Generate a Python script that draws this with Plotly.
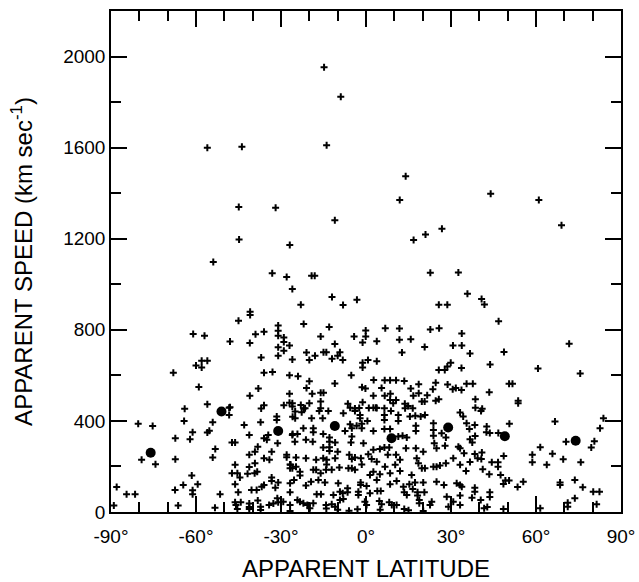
import plotly.graph_objects as go

# Individual events: (apparent latitude [deg], apparent speed [km/s])
pts_upper = [
    (-14.8,1953),(-8.9,1824),(-56,1599),(-43.8,1604),(-13.9,1610),
    (-44.9,1339),(-31.9,1336),(-11,1281),(-44.8,1197),(-26.9,1172),(-53.9,1098),(-33.1,1048),
    (-28,1032),(-19.2,1037),(-18.1,1037),(-26,979),(-12,944),(-23,910),(-8.1,909),(-3.2,932),
    (14,1474),(11.9,1370),(44,1397),(61,1370),(69,1259),(26.8,1244),(21,1219),(16.8,1194),
    (22.7,1051),(32.6,1052),(35.8,958),(40.8,935),(25.7,910),(28.7,910),(41.8,911),
]
pts_mid_left = [
    (-40.9,879),(-40.9,865),(-45,840),(-61,782),(-57,774),(-48,749),(-41,742),(-39,781),(-36,791),
    (-31,819),(-31,796),(-31,774),(-29,766),(-29,747),(-27,731),(-31,724),(-29,708),(-31,686),
    (-37,678),(-26,670),(-58,664),(-56,664),(-60,643),(-58,634),(-68,611),(-36,611),(-33,615),
    (-27,601),(-59,549),(-38,542),(-41,510),(-27,519),(-56,473),(-36,469),(-29,469),(-26,478),
    (-26,463),(-64,453),(-48,460),(-37,454),
]
pts_mid_center = [
    (-22,826),(-13,812),(-16,771),(-11,738),(-4.2,771),(-0.1,797),(-0.1,771),(-1.2,744),(3.8,750),
    (6.8,807),(11.8,806),(11.8,756),(15.8,759),(22.7,801),(25.8,807),(33.8,784),(30.7,731),
    (33.8,731),(20.7,725),(12.7,700),(-21,700),(-20,667),(-18,686),(-15,702),(-14,702),(-10,686),
    (-9.2,702),(-12,673),(-8.2,668),(-1.2,655),(-1.2,634),(0.7,668),(3.8,662),(-24,596),(-20,574),
    (-5.2,601),(-11,564),(-21,545),(-19,519),(-16,524),(-15,524),(-1.4,548),(-0.2,542),(2.7,580),
    (2.6,511),(6.6,579),(8.5,579),(10.6,579),(13.5,575),(5.5,545),(8.6,519),(6.6,510),(15.8,542),
    (18.6,561),(18.6,522),(16.7,511),(21.6,513),(23.6,539),(24.6,568),(28.8,560),(30.6,539),
    (31.7,545),(33.7,536),(25.7,624),(27.8,624),(28.7,639),(29.9,655),(33.7,632),(25.7,495),
    (24.6,489),(-27,480),(-23,470),(-20,478),(-16,485),(-6.4,475),(-1.2,482),(2.6,458),(8.5,492),
    (9.6,478),(10.6,492),(13.7,475),(14.9,466),(16.5,456),(19.7,485),(20.7,485),(6.5,456),
    (-2.4,457),(1,457),(3.8,457),(-3.9,454),(-16,456),(-22,454),
]
pts_mid_right = [
    (46.8,838),(36.7,696),(48.7,703),(71.7,739),(43.8,648),(60.7,630),(75.6,608),(35.5,563),
    (37.7,563),(50.5,563),(51.7,563),(43.5,526),(38.6,495),(53.7,488),(53.7,478),(38.6,458),(41,453),
]
pts_low_right = [
    (40.6,444),(33.2,437),(34.3,419),(35.5,390),(38.4,382),(36.5,364),(42.6,375),(42.5,350),
    (43.7,347),(46.7,347),(50.6,388),(38.5,334),(36.7,320),(37.5,305),(33.2,280),(34.6,258),
    (38.4,255),(40.9,261),(48.6,246),(39.4,236),(40.7,233),(33.2,207),(36.7,220),(44.4,218),
    (46.6,218),(46.6,199),(35.3,180),(41.2,188),(43.5,166),(47.5,163),(49.2,138),(50.5,138),
    (48.5,123),(53.5,110),(55.5,133),(33.2,119),(38.4,107),(38.4,89),(43.7,87),(43.7,66),
    (33.2,72),(37.4,63),(40.5,53),(41.7,16),(42.8,22),(48.5,13),
    (66.7,397),(83.8,412),(82.6,368),(80.6,311),(79.5,283),(70.6,309),(61.5,284),(58.7,251),
    (58.7,218),(65.8,256),(63.8,207),(69.6,232),(75.8,218),(68.5,130),(68.5,119),(73.7,141),
    (76.5,109),(80.2,89),(82.4,89),(73.7,60),(71.2,41),(71.2,23),(61.5,16),(81.4,34),
]
pts_low_left = [
    (-48.3,458),(-48.3,426),(-80.4,387),(-75.3,378),(-64.2,400),(-54.1,394),(-61.2,350),
    (-62.1,320),(-55.3,357),(-56,349),(-67.3,324),(-43,382),(-37.2,394),(-31.5,419),(-31.5,404),
    (-25.9,418),(-26,338),(-34.5,338),(-36,324),(-35,317),(-41.2,338),(-31.2,302),(-33.3,265),
    (-28,251),(-28,240),(-26.6,207),(-26,192),(-38.2,287),(-39.2,265),(-41.2,251),(-36,236),
    (-34.1,229),(-79.2,229),(-74.3,210),(-67.3,232),(-54.1,239),(-53.2,277),(-47.3,305),
    (-46.2,305),(-46.2,207),(-41.2,198),(-39.2,214),(-38.4,177),(-39.3,170),(-41.8,168),
    (-47.3,170),(-45.4,170),(-44.5,151),(-46.2,122),(-36,119),(-36.8,111),(-33.3,151),
    (-33.3,136),(-32,107),(-31,130),(-26.8,126),(-61.5,160),(-64.5,119),(-59.4,122),(-61.2,95),
    (-61.2,78),(-67.4,97),(-84.5,78),(-81.5,78),(-51.5,78),(-45.1,87),(-40.4,97),(-38.6,97),
    (-46.2,43),(-45.9,31),(-44.2,43),(-41.2,37),(-41.2,22),(-41.2,13),(-38.2,50),(-37.2,23),
    (-37.2,9),(-34.2,31),(-32.7,37),(-31.3,60),(-31,43),(-29.2,45),(-26.8,31),(-26.8,4),
    (-66.3,28),(-53.3,19),(-45.4,13),(-88,110),(-89,28),
]
pts_low_center = [
    (-25,441),(-22.7,438),(-21.5,456),(-25,412),(-19.2,412),(-16.5,444),(-13.3,444),(-15.3,412),
    (-8,434),(-5.6,458),(-3.9,444),(-2.1,426),(-2.1,412),(0.5,400),(3.5,458),(6.5,426),(6.5,404),
    (8.8,444),(11.4,426),(11.4,400),(13.8,456),(15.5,419),(17.4,423),(19.3,419),(20.8,426),
    (23.8,390),(-25.9,342),(-24.2,342),(-22.1,368),(-21.2,317),(-25.1,309),(-18.6,368),
    (-18.6,350),(-18.8,309),(-15.1,342),(-12.9,327),(-12.9,309),(-15.1,283),(-12.9,284),
    (-12.9,268),(-10.9,305),(-10,265),(-7.4,356),(-5.6,385),(-5,368),(-5,331),(-5.3,305),
    (-3.3,379),(-1.5,387),(-1.5,368),(2.6,356),(6.5,365),(8.5,365),(11.4,331),(12.9,335),
    (14.4,327),(17.6,379),(17.6,356),(23.8,360),(23.8,335),(26.7,346),(28.2,327),(24.1,302),
    (27.9,291),(32.6,287),(-0.9,302),(2.6,273),(4.9,277),(6.5,283),(8.2,283),(7.7,251),
    (10.6,251),(14.1,280),(17.6,280),(20.2,265),(24.9,280),(-24.7,239),(-21.2,236),(-26.8,209),
    (-26.8,192),(-24.7,199),(-23.3,177),(-23.3,160),(-17.6,229),(-15.1,236),(-13.9,229),
    (-13.9,209),(-10.9,236),(-5.9,251),(-5,233),(-3.9,239),(-1.8,236),(0.8,254),(2,233),
    (3.8,221),(6.7,199),(10.3,207),(8.5,170),(12,229),(17.9,236),(18.5,214),(19.7,192),
    (20.8,192),(23.8,199),(24.9,199),(26.1,204),(28.2,214),(30.8,236),(-18.6,185),(-17.6,185),
    (-16,170),(-14.1,185),(-12.1,185),(-9.4,195),(-6.2,192),(-5,192),(-3.9,185),(-1.5,209),
    (1.4,163),(2.6,177),(4.9,166),(12,180),(16.1,163),(-25.4,141),(-21.2,116),(-26.8,87),
    (-19.4,133),(-16.8,141),(-14.5,130),(-9.8,126),(-6.5,104),(-6.5,87),(-1.9,130),(-1.9,119),
    (0.2,114),(3.8,141),(8.5,122),(10.8,136),(13.2,111),(15.3,122),(17.3,130),(20.2,130),
    (24.9,133),(27.5,119),(32,126),(33.8,111),(-17.4,78),(-15.9,78),(-11.5,75),(-9.2,89),
    (-8.2,82),(-2.7,89),(-2.7,75),(1.4,82),(4,92),(5.2,92),(13.5,87),(14.4,75),(16.5,101),
    (18.2,87),(18.2,72),(20.6,87),(28.5,67),(-24.2,53),(-23.3,45),(-22.1,38),(-20.7,31),
    (-19.8,16),(-18.6,38),(-14.1,31),(-12.1,34),(-10.9,23),(-9.2,53),(-8,57),(-0.4,45),
    (0.2,31),(4.7,48),(5.5,34),(8.2,43),(9.1,31),(10.8,31),(13.5,13),(18.8,53),(18.8,38),
    (20.2,4),(23.2,45),(22.6,31),(30.8,45),(29.1,23),(33.2,31),(-14,15),(-10,10),(-6,6),
    (5,10),(15,8),(-3,12),
]

# Bin means (large dots)
mean_lat = [-76, -51, -31, -11, 9, 29, 49, 74]
mean_speed = [260, 441, 356, 378, 324, 371, 333, 313]

x_ticks = [-90, -60, -30, 0, 30, 60, 90]
x_ticktext = ["-90°", "-60°", "-30°", "0°", "30°", "60°", "90°"]
y_ticks = [0, 400, 800, 1200, 1600, 2000]

all_pts = (pts_upper + pts_mid_left + pts_mid_center + pts_mid_right
           + pts_low_right + pts_low_left + pts_low_center)
lat = [p[0] for p in all_pts]
speed = [p[1] for p in all_pts]

fig = go.Figure()
fig.add_trace(go.Scatter(
    x=lat, y=speed, mode="markers",
    marker=dict(symbol="cross-thin", size=5, color="black",
                line=dict(color="black", width=2)),
    showlegend=False, hoverinfo="skip"))
fig.add_trace(go.Scatter(
    x=mean_lat, y=mean_speed, mode="markers",
    marker=dict(symbol="circle", size=10, color="black"),
    showlegend=False, hoverinfo="skip"))

font_family = "Liberation Sans, Arial, sans-serif"
axis_common = dict(
    ticks="inside", tickcolor="black", tickwidth=1.5,
    showline=True, linecolor="black", linewidth=1.5, mirror="allticks",
    showgrid=False, zeroline=False, automargin=False,
    tickfont=dict(family=font_family, size=19, color="black"),
)
fig.update_xaxes(
    range=[-90, 90], tickmode="array", tickvals=x_ticks, ticktext=x_ticktext,
    ticklen=16, ticklabelstandoff=6,
    minor=dict(dtick=10, tick0=0, ticks="inside", ticklen=10, tickwidth=1.5, tickcolor="black"),
    title=dict(text="APPARENT LATITUDE", font=dict(family=font_family, size=24, color="black"),
               standoff=20),
    **axis_common)
fig.update_yaxes(
    range=[0, 2200], tickmode="array", tickvals=y_ticks,
    ticklen=16,
    minor=dict(dtick=200, tick0=0, ticks="inside", ticklen=10, tickwidth=1.5, tickcolor="black"),
    title=dict(text="APPARENT SPEED (km sec<sup>-1</sup>)",
               font=dict(family=font_family, size=24, color="black"), standoff=24),
    **axis_common)

fig.update_layout(
    width=639, height=582,
    margin=dict(l=111, r=18, t=11, b=70),
    paper_bgcolor="white", plot_bgcolor="white",
)

fig.write_html("out.html")
